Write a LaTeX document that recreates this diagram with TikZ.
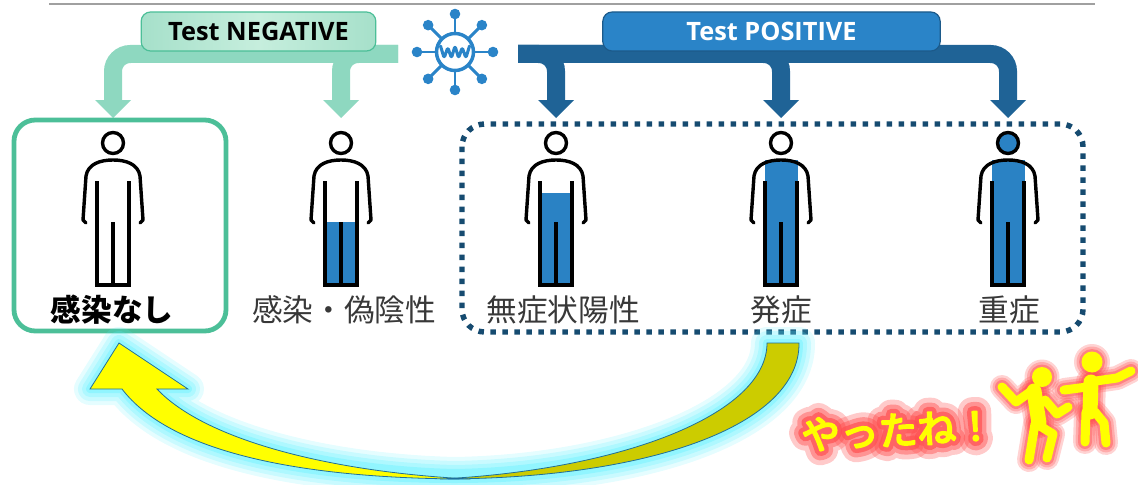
\documentclass[tikz,border=0pt]{standalone}
\usepackage{fontspec}
\newfontfamily\jpfont{Noto Sans CJK JP}
\newfontfamily\latfont{Open Sans}
% stroked (emboldened) faces for the cheering text and its soft halo
\newfontfamily\cheerfont{Noto Sans CJK JP}[FakeBold=5]
\newfontfamily\haloA{Noto Sans CJK JP}[FakeBold=75]
\newfontfamily\haloB{Noto Sans CJK JP}[FakeBold=50]
\newfontfamily\haloC{Noto Sans CJK JP}[FakeBold=28]

\definecolor{negband}{HTML}{8ED8C0}
\definecolor{negedge}{HTML}{4CBF98}
\definecolor{negfillA}{HTML}{A6E0CA}
\definecolor{negfillB}{HTML}{C6EEDD}
\definecolor{posband}{HTML}{1F6396}
\definecolor{posfill}{HTML}{2A84C8}
\definecolor{posedge}{HTML}{1C5A8A}
\definecolor{bodyblue}{HTML}{2A82C4}
\definecolor{dotblue}{HTML}{164B70}
\definecolor{grayline}{HTML}{A0A0A0}
\definecolor{labelgray}{HTML}{383838}
\definecolor{glowcyan}{HTML}{5CF0FF}
\definecolor{glowred}{HTML}{FF5050}
\definecolor{arrowyellow}{HTML}{FFFF00}
\definecolor{arrowolive}{HTML}{CCCC00}
\definecolor{arrowedge}{HTML}{1F6F9A}
\definecolor{dancer}{HTML}{FFFF00}

% outline of the curved return arrow
\def\returnarrow{(767,343) -- (799,343) .. controls (800,425) and (650,479) .. (455,479)
  .. controls (300,479) and (170,452) .. (122,389) -- (90,389) -- (119,343) -- (188,389) -- (157,389)
  .. controls (205,440) and (330,470) .. (455,473) .. controls (620,470) and (767,415) .. (767,343) -- cycle}

% limbs of the two dancing figures; #1 widens every stroke
\newcommand\dancerlimbs[1]{%
  \draw[line width={(9+#1)*0.75pt}] (1002,387) -- (1016,402) -- (1030,392);
  \draw[line width={(15+#1)*0.75pt}] (1034,391) -- (1039,423);
  \draw[line width={(9+#1)*0.75pt}] (1045,400) -- (1057,414) -- (1068,407);
  \draw[line width={(9+#1)*0.75pt}] (1035,424) -- (1029,460);
  \draw[line width={(9+#1)*0.75pt}] (1040,426) -- (1053,434) -- (1047,458);
  \fill (1042,377) circle ({10+#1/2});
  \draw[line width={(15+#1)*0.75pt}] (1091,382) -- (1090,412);
  \draw[line width={(9+#1)*0.75pt}] (1087,387) -- (1064,390);
  \draw[line width={(9+#1)*0.75pt}] (1096,381) -- (1117,378) -- (1131,371);
  \draw[line width={(9+#1)*0.75pt}] (1086,412) -- (1085,442);
  \draw[line width={(9+#1)*0.75pt}] (1095,412) -- (1104,423) -- (1106,443);
  \fill (1092,362) circle ({10.5+#1/2});
}

\tikzset{
  pics/person/.style={code={
    \draw[figline] (0,0) circle (10.5);
    \draw[figline, line cap=round, line join=round]
      (-27,80) -- (-30,77) -- (-27,33) .. controls (-25,21) and (-13,17) .. (0,17)
      .. controls (13,17) and (25,21) .. (27,33) -- (30,77) -- (27,80);
    \draw[figline] (-16,38) -- (-16,142) -- (16,142) -- (16,38);
    \draw[figline] (0,79) -- (0,142);
  }}
}

\begin{document}
\begin{tikzpicture}[x=0.75pt,y=-0.75pt,
  figline/.style={draw=black, line width=2.55pt},
  negarrow/.style={draw=negband, line width=13.5pt, rounded corners=13pt},
  posarrow/.style={draw=posband, line width=13.5pt, rounded corners=13pt},
  labeltext/.style={font=\jpfont\fontsize{23pt}{27pt}\selectfont, text=labelgray, inner sep=0pt, anchor=center},
  testbox/.style={rounded corners=7pt, line width=0.9pt, minimum height=29.25pt, inner sep=0pt,
    font=\latfont\bfseries\fontsize{19pt}{22pt}\selectfont},
  yatta/.style={inner sep=0pt, rotate=3, line join=round, line cap=round}
]
\useasboundingbox (0,0) rectangle (1138,485);

% rule along the top
\draw[grayline, line width=1.1pt] (49,4) -- (1095,4);

% branching arrows of a negative test
\coordinate (nsrc) at (398,54);
\coordinate (ntipA) at (113,118);
\coordinate (ntipB) at (341,118);
\draw[negarrow] (nsrc) -- (113,54) -- (113,101);
\draw[negarrow] (nsrc) -- (341,54) -- (341,101);
\foreach \t in {ntipA,ntipB}{
  \fill[negband] (\t) -- ++(-18,-18) -- ++(36,0) -- cycle;
}

% branching arrows of a positive test
\coordinate (psrc) at (518,54);
\coordinate (ptipA) at (556,118);
\coordinate (ptipB) at (781,118);
\coordinate (ptipC) at (1008,118);
\draw[posarrow] (psrc) -- (556,54) -- (556,101);
\draw[posarrow] (psrc) -- (781,54) -- (781,101);
\draw[posarrow] (psrc) -- (1008,54) -- (1008,101);
\foreach \t in {ptipA,ptipB,ptipC}{
  \fill[posband] (\t) -- ++(-18,-18) -- ++(36,0) -- cycle;
}

% result labels
\node[testbox, draw=negedge, left color=negfillA, right color=negfillA, middle color=negfillB,
  minimum width=176pt, text=black] (neg) at (258.5,31.5) {Test NEGATIVE};
\node[testbox, draw=posedge, fill=posfill, minimum width=253pt, text=white] (pos) at (771.5,31.5) {Test POSITIVE};

% virus icon
\begin{scope}[shift={(455,52)}]
  \draw[posfill, line width=2.6pt] (0,0) circle (18.5);
  \foreach \a in {0,45,...,315}{
    \draw[posfill, line width=2.2pt] (\a:20) -- (\a:36);
    \fill[posfill] (\a:38) circle (5.3);
  }
  \draw[posfill, line width=2.3pt, line join=round, line cap=round, rounded corners=1.2pt]
    (-14.5,-6) -- (-10.9,6) -- (-7.2,-4.5) -- (-3.6,6) -- (0,-6) -- (3.6,6) -- (7.2,-4.5) -- (10.9,6) -- (14.5,-6);
\end{scope}

% frame of the uninfected
\draw[negedge, line width=3.6pt, rounded corners=16pt] (14,120) rectangle (226,331);
% frame of the positive cases
\draw[dotblue, line width=4.1pt, dash pattern=on 4.1pt off 4.9pt, rounded corners=17pt] (462,124) rectangle (1083,332);

% people
\pic at (113,143) {person};

\begin{scope}[shift={(341,143)}]
  \fill[bodyblue] (-16,79) rectangle (16,142);
  \pic {person};
\end{scope}

\begin{scope}[shift={(556,143)}]
  \fill[bodyblue] (-16,50) rectangle (16,142);
  \pic {person};
\end{scope}

\begin{scope}[shift={(781,143)}]
  \fill[bodyblue] (-16.5,17) rectangle (16.5,142);
  \pic {person};
\end{scope}

\begin{scope}[shift={(1008,143)}]
  \fill[bodyblue] (-16.5,17) rectangle (16.5,142);
  \fill[bodyblue] (0,0) circle (10.5);
  \pic {person};
\end{scope}

\node[labeltext, text=black, font=\jpfont\bfseries\fontsize{23pt}{27pt}\selectfont] (none) at (112,310) {感染なし};
\node[labeltext] (falseneg) at (344,310) {感染・偽陰性};
\node[labeltext] (asym) at (563,310) {無症状陽性};
\node[labeltext] (onset) at (781,310) {発症};
\node[labeltext] (severe) at (1009,310) {重症};

% curved return arrow with its glow
\foreach \w/\o in {32/0.16, 24/0.2, 16/0.25, 8/0.35}{
  \draw[glowcyan, line width=\w*0.75pt, opacity=\o, line join=round] \returnarrow;
}
\fill[arrowolive, draw=arrowedge, line width=0.6pt]
  (799,343) .. controls (800,425) and (650,479) .. (440,479)
  .. controls (620,470) and (767,415) .. (767,343) -- cycle;
\fill[arrowyellow, draw=arrowedge, line width=0.6pt]
  (470,479) .. controls (300,479) and (170,452) .. (122,389) -- (90,389) -- (119,343) -- (188,389) -- (157,389)
  .. controls (205,440) and (330,472) .. (470,479) -- cycle;

% cheering text over a stroked red halo
\node[yatta, font=\haloA\fontsize{29pt}{32pt}\selectfont, text=glowred, opacity=0.3] (yayhaloA) at (898,430) {やったね！};
\node[yatta, font=\haloB\fontsize{29pt}{32pt}\selectfont, text=glowred, opacity=0.45] (yayhaloB) at (898,430) {やったね！};
\node[yatta, font=\haloC\fontsize{29pt}{32pt}\selectfont, text=glowred, opacity=0.7] (yayhaloC) at (898,430) {やったね！};
\node[yatta, font=\cheerfont\fontsize{29pt}{32pt}\selectfont, text=arrowyellow] (yay) at (898,430) {やったね！};

% dancing figures with their glow
\begin{scope}[color=glowred, line cap=round, line join=round]
  \foreach \e/\o in {15/0.25, 10/0.3, 5/0.45}{
    \begin{scope}[opacity=\o] \dancerlimbs{\e} \end{scope}
  }
\end{scope}
\begin{scope}[color=dancer, line cap=round, line join=round]
  \dancerlimbs{0}
\end{scope}
\end{tikzpicture}
\end{document}
